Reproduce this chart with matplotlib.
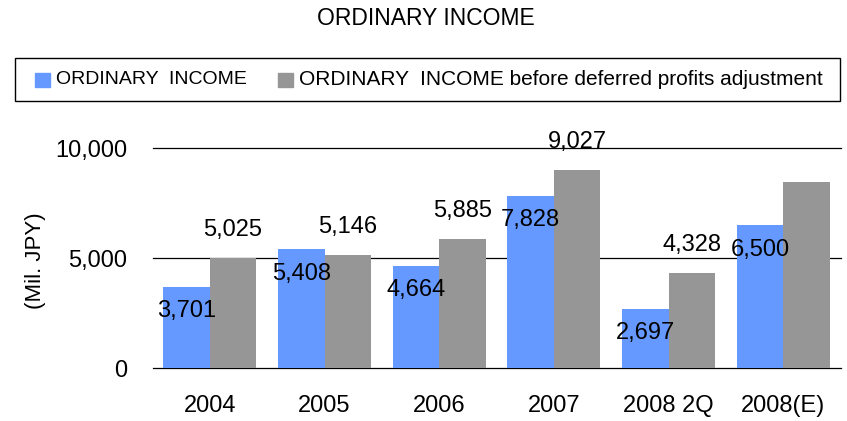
import numpy as np
import matplotlib
matplotlib.use("Agg")
import matplotlib.pyplot as plt
import matplotlib.patches as mpatches
from matplotlib.ticker import FuncFormatter

plt.rcParams['font.family'] = ['Liberation Sans', 'DejaVu Sans']

# ── data ─────────────────────────────────────────────────────────────────────
years    = ["2004", "2005", "2006", "2007", "2008 2Q", "2008(E)"]
ordinary = [3701, 5408, 4664, 7828, 2697, 6500]
before   = [5025, 5146, 5885, 9027, 4328, 8460]
before_labels = ["5,025", "5,146", "5,885", "9,027", "4,328", None]   # last one not labelled
series_names = ["ORDINARY  INCOME", "ORDINARY  INCOME before deferred profits adjustment"]

BLUE = '#6699FF'
GRAY = '#969696'

W, H = 847, 421
fig = plt.figure(figsize=(W/100, H/100), dpi=100)
ax = fig.add_axes([152.5/W, 1-368.3/H, (840.5-152.5)/W, 220/H])

x = np.arange(len(years))
bw = 0.405
ax.bar(x - bw/2, ordinary, bw, color=BLUE, zorder=2)
ax.bar(x + bw/2, before, bw, color=GRAY, zorder=2)

ax.set_xlim(-0.5, len(years) - 0.5)
ax.set_ylim(0, 10000)
ax.set_yticks([0, 5000, 10000])
ax.yaxis.set_major_formatter(FuncFormatter(lambda v, p: f"{int(v):,}"))
ax.set_xticks(x)
ax.set_xticklabels(years)
ax.tick_params(axis='both', length=0, labelsize=17)
ax.tick_params(axis='y', pad=18)
ax.tick_params(axis='x', pad=19)
for s in ax.spines.values():
    s.set_visible(False)
ax.yaxis.grid(True, color='black', lw=0.9, zorder=1)
for gl in ax.get_ygridlines():
    gl.set_clip_on(False)
ax.set_axisbelow(True)

# etiquetas de datos
for xi, v in zip(x, ordinary):
    ax.annotate(f"{v:,}", (xi - bw/2, v), xytext=(0, -17.5), textcoords='offset points',
                ha='center', va='center', fontsize=17, zorder=5)
for xi, v, lab in zip(x, before, before_labels):
    if lab is None:
        continue
    ax.annotate(lab, (xi + bw/2, v), xytext=(0, 20), textcoords='offset points',
                ha='center', va='center', fontsize=17, zorder=5, annotation_clip=False)

fig.text(36/W, 1-261/H, "(Mil. JPY)", rotation=90, ha='center', va='center', fontsize=16)
fig.text(426/W, 1-18.5/H, "ORDINARY INCOME", ha='center', va='center', fontsize=16.5)

# leyenda dibujada a mano
fig.patches.append(mpatches.Rectangle((15/W, 1-100.5/H), 825/W, 42.5/H, transform=fig.transFigure,
                                      fill=False, edgecolor='black', lw=1.0))
fig.patches.append(mpatches.Rectangle((35/W, 1-86.7/H), 15/W, 14/H, transform=fig.transFigure,
                                      color=BLUE))
fig.patches.append(mpatches.Rectangle((278/W, 1-86.7/H), 15/W, 14/H, transform=fig.transFigure,
                                      color=GRAY))
fig.text(56/W, 1-79.5/H, series_names[0], ha='left', va='center', fontsize=14)
fig.text(299/W, 1-79.5/H, series_names[1], ha='left', va='center', fontsize=15)

fig.savefig("out.png", dpi=100)
